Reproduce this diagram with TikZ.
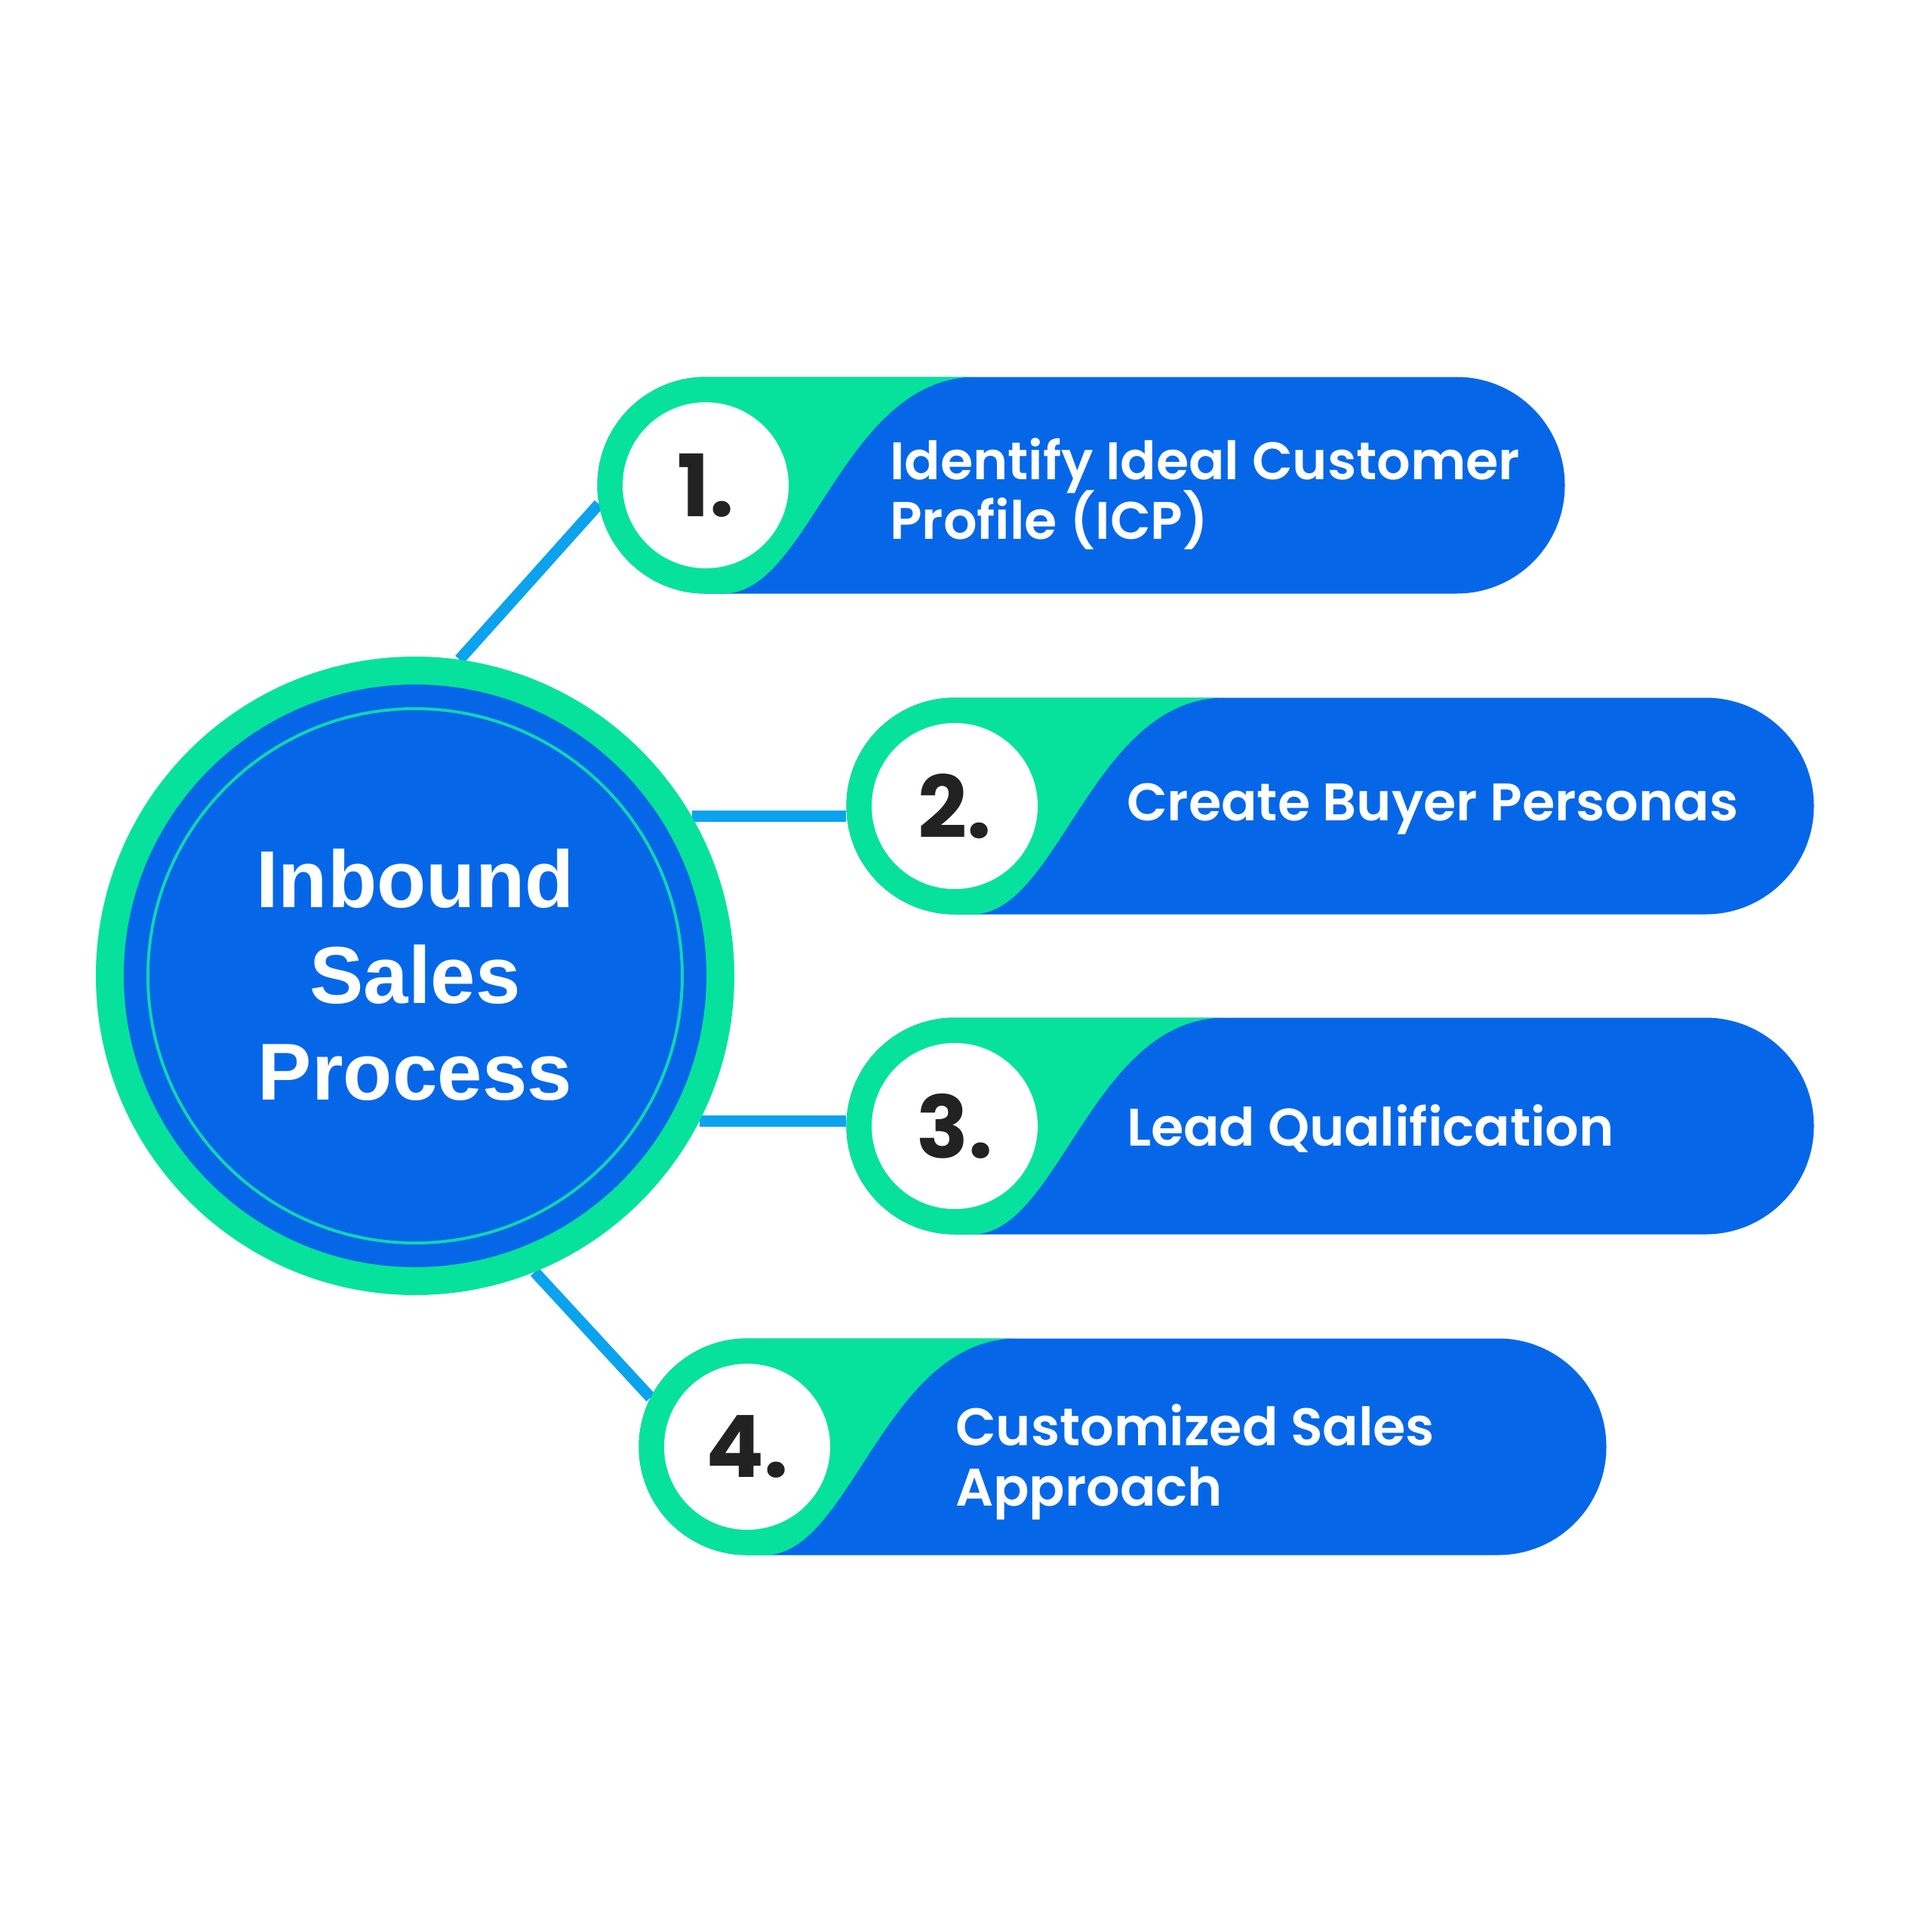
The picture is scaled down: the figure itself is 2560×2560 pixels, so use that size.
\documentclass[tikz,border=0pt]{standalone}
\usepackage{fontspec}
\newfontfamily\lblfont{Poppins}[UprightFont=* SemiBold, BoldFont=* Bold]
\newfontfamily\titlefont{Liberation Sans}
\definecolor{pblue}{HTML}{0567E8}
\definecolor{pgreen}{HTML}{06E29B}
\definecolor{lblue}{HTML}{0BA2EE}
\definecolor{ringc}{HTML}{12D4B2}
\definecolor{dark}{HTML}{222222}
\tikzset{
  capnode/.style={circle, minimum size=287pt, inner sep=0pt},
  conn/.style={draw=lblue, line width=15pt},
  numc/.style={circle, fill=white, minimum size=220pt, inner sep=0pt, text=dark,
    font=\lblfont\bfseries\fontsize{114}{114}\selectfont},
  lbl/.style={anchor=base west, inner sep=0pt, text=white,
    font=\lblfont\fontsize{70}{80}\selectfont},
  ttl/.style={anchor=base, inner sep=0pt, text=white,
    font=\titlefont\bfseries\fontsize{107}{127}\selectfont}
}
\begin{document}
\begin{tikzpicture}[x=1pt,y=-1pt]
\fill[white] (0,0) rectangle (2560,2560);
\useasboundingbox (0,0) rectangle (2560,2560);

% invisible reference nodes
\node[circle, minimum size=846pt, inner sep=0pt] (hub) at (550,1293) {};
\node[capnode] (c1) at (935,643) {};
\node[capnode] (c2) at (1265,1068) {};
\node[capnode] (c3) at (1265,1492) {};
\node[capnode] (c4) at (990,1917) {};

% connectors (behind shapes)
\draw[conn] (hub.82.3) -- (c1.190.7);
\draw[conn] (hub.30.7) -- (hub.30.7 -| c2.west);
\draw[conn] (hub.-27.9) -- (hub.-27.9 -| c3.west);
\draw[conn] (hub.-68.6) -- (c4.153.3);

% hub
\fill[pgreen] (hub.center) circle[radius=423pt];
\fill[pblue] (hub.center) circle[radius=386pt];
\draw[ringc, line width=4pt] (hub.center) circle[radius=354pt];

% pills
\foreach \cx/\cy in {935/643, 1265/1068, 1265/1492, 990/1917}{
  \fill[pblue, rounded corners=143.5pt] (\cx-143.5,\cy-143.5) rectangle (\cx+995+143.5,\cy+143.5);
  \begin{scope}
    \clip[rounded corners=143.5pt] (\cx-143.5,\cy-143.5) rectangle (\cx+995+143.5,\cy+143.5);
    \fill[pgreen] (\cx-200,\cy-200) -- (\cx+358,\cy-200) -- (\cx+358,\cy-143.5)
      .. controls (\cx+182,\cy-143.5) and (\cx+138,\cy+143.5) .. (\cx+24,\cy+143.5)
      -- (\cx+24,\cy+200) -- (\cx-200,\cy+200) -- cycle;
  \end{scope}
}

% number circles
\node[numc] (n1) at (c1) {1.};
\node[numc] (n2) at (c2) {2.};
\node[numc] (n3) at (c3) {3.};
\node[numc] (n4) at (c4) {4.};

% title
\node[ttl] (t1) at (550,1202) {Inbound};
\node[ttl] (t2) at (550,1329) {Sales};
\node[ttl] (t3) at (550,1457) {Process};

% labels
\node[lbl] (l1a) at (1179,635) {Identify Ideal Customer};
\node[lbl] (l1b) at (1179,714) {Profile (ICP)};
\node[lbl] (l2) at (1493,1087) {Create Buyer Personas};
\node[lbl] (l3) at (1493,1518) {Lead Qualification};
\node[lbl] (l4a) at (1266,1915) {Customized Sales};
\node[lbl] (l4b) at (1266,1995) {Approach};
\end{tikzpicture}
\end{document}
